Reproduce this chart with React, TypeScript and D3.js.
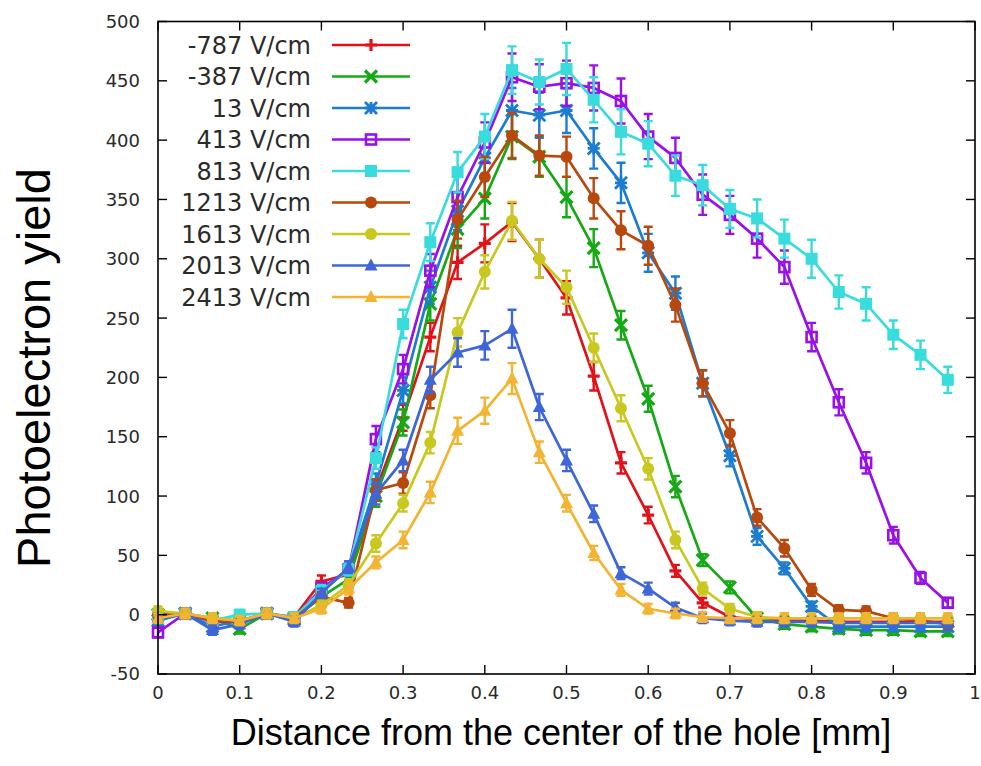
import React from "react";
import * as d3 from "d3";

const xValues = [0, 0.0333, 0.0667, 0.1, 0.1333, 0.1667, 0.2, 0.2333, 0.2667, 0.3, 0.3333, 0.3667, 0.4, 0.4333, 0.4667, 0.5, 0.5333, 0.5667, 0.6, 0.6333, 0.6667, 0.7, 0.7333, 0.7667, 0.8, 0.8333, 0.8667, 0.9, 0.9333, 0.9667];

const seriesNames = ["-787 V/cm", "-387 V/cm", "13 V/cm", "413 V/cm", "813 V/cm", "1213 V/cm", "1613 V/cm", "2013 V/cm", "2413 V/cm"];

const vM787 = [0, 1, -4, -6, 1, -2, 28, 34, 105, 166, 234, 297, 313, 331, 300, 267, 201, 128, 84, 37, 10, -2, -4, -5, -5, -6, -6, -6, -6, -6];
const eM787 = [4, 4, 4, 4, 4, 4, 5, 5, 9, 11, 12, 14, 16, 16, 16, 14, 12, 9, 7, 5, 4, 4, 4, 4, 4, 4, 4, 4, 4, 4];
const vM387 = [0, 1, -3, -12, 1, -3, 15, 30, 100, 162, 262, 325, 351, 403, 386, 352, 309, 244, 182, 108, 46, 23, -3, -8, -10, -12, -13, -13, -14, -14];
const eM387 = [4, 4, 4, 4, 4, 4, 4, 5, 9, 11, 14, 16, 17, 19, 17, 17, 16, 12, 11, 9, 5, 5, 4, 4, 4, 4, 4, 4, 4, 4];
const v13 = [-5, 1, -10, -5, 1, -4, 20, 38, 110, 189, 276, 340, 385, 425, 421, 425, 393, 364, 305, 271, 195, 134, 66, 39, 7, -10, -10, -10, -10, -10];
const e13 = [4, 4, 4, 4, 4, 4, 5, 5, 9, 11, 14, 16, 17, 19, 19, 19, 17, 17, 16, 14, 11, 9, 7, 5, 4, 4, 4, 4, 4, 4];
const v413 = [-15, 1, -6, -5, 1, -3, 22, 38, 148, 207, 290, 352, 398, 453, 445, 448, 444, 433, 403, 385, 354, 337, 317, 293, 234, 179, 128, 67, 31, 10];
const e413 = [4, 4, 4, 4, 4, 4, 5, 5, 11, 12, 14, 17, 17, 20, 19, 19, 19, 19, 19, 17, 17, 16, 16, 14, 12, 11, 9, 7, 5, 4];
const v813 = [0, 1, -5, 0, 1, -2, 20, 38, 132, 245, 314, 373, 403, 459, 449, 460, 434, 407, 397, 370, 362, 342, 334, 317, 300, 272, 262, 236, 219, 198];
const e813 = [4, 4, 4, 4, 4, 4, 5, 5, 9, 12, 16, 17, 19, 20, 19, 22, 19, 19, 19, 17, 17, 16, 16, 16, 16, 14, 14, 12, 12, 11];
const v1213 = [0, 1, -5, -6, 1, -3, 15, 10, 105, 111, 185, 333, 369, 404, 387, 386, 351, 324, 311, 261, 195, 153, 82, 56, 21, 4, 3, -3, -5, -8];
const e1213 = [4, 4, 4, 4, 4, 4, 4, 4, 9, 9, 11, 16, 17, 19, 17, 17, 17, 16, 16, 14, 11, 11, 7, 7, 5, 4, 4, 4, 4, 4];
const v1613 = [3, 1, -3, -5, 1, -3, 8, 25, 60, 94, 145, 238, 289, 332, 300, 276, 225, 174, 123, 63, 22, 5, -2, -3, -3, -3, -3, -3, -3, -3];
const e1613 = [4, 4, 4, 4, 4, 4, 4, 5, 7, 7, 9, 12, 14, 16, 16, 14, 12, 11, 9, 7, 5, 4, 4, 4, 4, 4, 4, 4, 4, 4];
const v2013 = [-3, 1, -13, -8, 1, -6, 18, 40, 102, 130, 198, 221, 227, 241, 175, 130, 85, 35, 22, 6, -3, -5, -6, -6, -6, -7, -7, -7, -7, -7];
const e2013 = [4, 4, 4, 4, 4, 4, 4, 5, 9, 9, 11, 12, 12, 16, 11, 9, 7, 5, 5, 4, 4, 4, 4, 4, 4, 4, 4, 4, 4, 4];
const v2413 = [-3, 1, -3, -5, 1, -3, 5, 22, 44, 63, 103, 155, 172, 199, 137, 94, 52, 21, 5, 1, -2, -3, -3, -3, -3, -3, -3, -3, -3, -3];
const e2413 = [4, 4, 4, 4, 4, 4, 4, 5, 5, 7, 9, 11, 11, 13, 9, 7, 6, 5, 4, 4, 4, 4, 4, 4, 4, 4, 4, 4, 4, 4];

const seriesValues = [vM787, vM387, v13, v413, v813, v1213, v1613, v2013, v2413];
const seriesErrors = [eM787, eM387, e13, e413, e813, e1213, e1613, e2013, e2413];
const seriesColors = ["#e3121a", "#16a916", "#1c7cd0", "#9a10e8", "#38dcdc", "#b8480e", "#c9c81e", "#3f66d8", "#f2b431"];
const seriesMarkers = ["plus", "cross", "star", "openSquare", "square", "circle", "circle", "triangle", "triangle"];

const yTicks = [-50, 0, 50, 100, 150, 200, 250, 300, 350, 400, 450, 500];
const xTicks = [0, 0.1, 0.2, 0.3, 0.4, 0.5, 0.6, 0.7, 0.8, 0.9, 1];
const xTickLabels = ["0", "0.1", "0.2", "0.3", "0.4", "0.5", "0.6", "0.7", "0.8", "0.9", "1"];

const W = 981;
const H = 766;
const left = 158;
const right = 975;
const top = 21.5;
const bottom = 674;

function Marker({ type, x, y, color }: { type: string; x: number; y: number; color: string }) {
  const s = 6;
  switch (type) {
    case "plus":
      return <path d={`M${x - s},${y}H${x + s}M${x},${y - s}V${y + s}`} stroke={color} strokeWidth={3.2} />;
    case "cross":
      return <path d={`M${x - s},${y - s}L${x + s},${y + s}M${x - s},${y + s}L${x + s},${y - s}`} stroke={color} strokeWidth={3.2} />;
    case "star":
      return (
        <path
          d={`M${x - s},${y}H${x + s}M${x},${y - s}V${y + s}M${x - s},${y - s}L${x + s},${y + s}M${x - s},${y + s}L${x + s},${y - s}`}
          stroke={color}
          strokeWidth={2.8}
        />
      );
    case "openSquare":
      return <rect x={x - s + 1} y={y - s + 1} width={2 * s - 2} height={2 * s - 2} fill="none" stroke={color} strokeWidth={2.6} />;
    case "square":
      return <rect x={x - s} y={y - s} width={2 * s} height={2 * s} fill={color} />;
    case "circle":
      return <circle cx={x} cy={y} r={s} fill={color} />;
    case "triangle":
      return <path d={`M${x},${y - s - 1}L${x + s + 0.5},${y + s - 1}L${x - s - 0.5},${y + s - 1}Z`} fill={color} />;
    default:
      return null;
  }
}

export default function App() {
  const xScale = d3.scaleLinear().domain([0, 1]).range([left, right]);
  const yScale = d3.scaleLinear().domain([-50, 500]).range([bottom, top]);
  const line = d3
    .line<[number, number]>()
    .x((d) => xScale(d[0]))
    .y((d) => yScale(d[1]));

  const tickLen = 9;
  const legendTextX = 311;
  const legendLineX0 = 332;
  const legendLineX1 = 410;
  const legendY0 = 45;
  const legendDy = 31.5;

  return (
    <svg width={W} height={H} style={{ position: "absolute", left: 0, top: 0, background: "#fff" }}>
      <rect x={0} y={0} width={W} height={H} fill="#fff" />
      {seriesValues.map((vals, si) => {
        const color = seriesColors[si];
        const pts: [number, number][] = vals.map((v, i) => [xValues[i], v]);
        return (
          <g key={si}>
            <path d={line(pts) || ""} fill="none" stroke={color} strokeWidth={2.7} strokeLinejoin="round" />
            {vals.map((v, i) => {
              const e = seriesErrors[si][i];
              const cx = xScale(xValues[i]);
              const y1 = yScale(v + e);
              const y2 = yScale(v - e);
              return (
                <g key={i}>
                  <path
                    d={`M${cx},${y1}V${y2}M${cx - 4.5},${y1}H${cx + 4.5}M${cx - 4.5},${y2}H${cx + 4.5}`}
                    stroke={color}
                    strokeWidth={2.4}
                    fill="none"
                  />
                  <Marker type={seriesMarkers[si]} x={cx} y={yScale(v)} color={color} />
                </g>
              );
            })}
          </g>
        );
      })}

      {seriesNames.map((name, si) => {
        const y = legendY0 + si * legendDy;
        const color = seriesColors[si];
        return (
          <g key={name}>
            <text
              x={legendTextX}
              y={y}
              dy="0.36em"
              textAnchor="end"
              fontFamily="DejaVu Sans, sans-serif"
              fontSize={24}
              fill="#2a2a2a"
            >
              {name}
            </text>
            <line x1={legendLineX0} x2={legendLineX1} y1={y} y2={y} stroke={color} strokeWidth={2.7} />
            <Marker type={seriesMarkers[si]} x={(legendLineX0 + legendLineX1) / 2} y={y} color={color} />
          </g>
        );
      })}

      <rect x={left} y={top} width={right - left} height={bottom - top} fill="none" stroke="#000" strokeWidth={1.6} />
      {yTicks.map((t) => (
        <g key={t}>
          <line x1={left} x2={left + tickLen} y1={yScale(t)} y2={yScale(t)} stroke="#000" strokeWidth={1.4} />
          <line x1={right} x2={right - tickLen} y1={yScale(t)} y2={yScale(t)} stroke="#000" strokeWidth={1.4} />
          <text
            x={left - 18}
            y={yScale(t)}
            dy="0.36em"
            textAnchor="end"
            fontFamily="DejaVu Sans, sans-serif"
            fontSize={18}
            fill="#2a2a2a"
          >
            {t}
          </text>
        </g>
      ))}
      {xTicks.map((t, i) => (
        <g key={t}>
          <line x1={xScale(t)} x2={xScale(t)} y1={bottom} y2={bottom - tickLen} stroke="#000" strokeWidth={1.4} />
          <line x1={xScale(t)} x2={xScale(t)} y1={top} y2={top + tickLen} stroke="#000" strokeWidth={1.4} />
          <text
            x={xScale(t)}
            y={bottom + 19}
            dy="0.36em"
            textAnchor="middle"
            fontFamily="DejaVu Sans, sans-serif"
            fontSize={18}
            fill="#2a2a2a"
          >
            {xTickLabels[i]}
          </text>
        </g>
      ))}

      <text
        x={561}
        y={745}
        textAnchor="middle"
        fontFamily="Liberation Sans, Arial, sans-serif"
        fontSize={36}
        fill="#000"
      >
        Distance from the center of the hole [mm]
      </text>
      <text
        transform={`translate(50,368) rotate(-90)`}
        textAnchor="middle"
        fontFamily="Liberation Sans, Arial, sans-serif"
        fontSize={47}
        fill="#000"
      >
        Photoelectron yield
      </text>
    </svg>
  );
}
